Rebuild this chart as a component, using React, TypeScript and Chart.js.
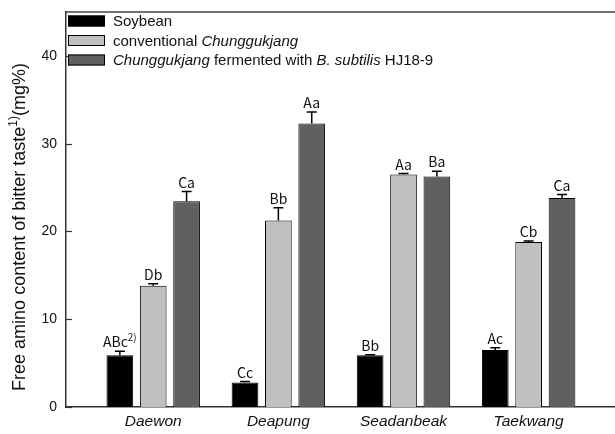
import React, { useEffect, useRef } from "react";
import { Chart, registerables } from "chart.js";

Chart.register(...registerables);

const categories = ["Daewon", "Deapung", "Seadanbeak", "Taekwang"];
const soybean = [5.9, 2.8, 5.9, 6.5];
const soybeanErr = [0.45, 0.1, 0.05, 0.25];
const conventional = [13.8, 21.25, 26.5, 18.8];
const conventionalErr = [0.25, 1.45, 0.1, 0.1];
const fermented = [23.45, 32.3, 26.25, 23.8];
const fermentedErr = [1.1, 1.3, 0.6, 0.4];
const soybeanLetters = ["ABc", "Cc", "Bb", "Ac"];
const conventionalLetters = ["Db", "Bb", "Aa", "Cb"];
const fermentedLetters = ["Ca", "Aa", "Ba", "Ca"];
const yTicks = [0, 10, 20, 30, 40];

type Seg = { t: string; i?: boolean; sup?: boolean };

const SANS = '"Liberation Sans", Arial, sans-serif';
const LETTER_FONT = '"Noto Sans CJK KR", "Noto Sans", sans-serif';

function segFont(s: Seg, size: number, family: string) {
  const sz = s.sup ? Math.round(size * 0.68) : size;
  return `${s.i ? "italic " : ""}${sz}px ${family}`;
}

function richWidth(ctx: CanvasRenderingContext2D, segs: Seg[], size: number, family: string) {
  let w = 0;
  for (const s of segs) {
    ctx.font = segFont(s, size, family);
    w += ctx.measureText(s.t).width;
  }
  return w;
}

function drawRich(
  ctx: CanvasRenderingContext2D,
  segs: Seg[],
  x: number,
  y: number,
  size: number,
  family: string
) {
  let cx = x;
  ctx.textAlign = "left";
  ctx.textBaseline = "alphabetic";
  for (const s of segs) {
    ctx.font = segFont(s, size, family);
    ctx.fillText(s.t, cx, s.sup ? y - size * 0.42 : y);
    cx += ctx.measureText(s.t).width;
  }
}

const legendItems: { color: string; segs: Seg[] }[] = [
  { color: "#000000", segs: [{ t: "Soybean" }] },
  { color: "#c0c0c0", segs: [{ t: "conventional " }, { t: "Chunggukjang", i: true }] },
  {
    color: "#606060",
    segs: [
      { t: "Chunggukjang", i: true },
      { t: " fermented with " },
      { t: "B. subtilis", i: true },
      { t: " HJ18-9" },
    ],
  },
];

const decorPlugin = {
  id: "decor",
  afterDatasetsDraw(chart: any) {
    const ctx: CanvasRenderingContext2D = chart.ctx;
    const yScale = chart.scales.y;
    const area = chart.chartArea;
    const errs = [soybeanErr, conventionalErr, fermentedErr];
    const vals = [soybean, conventional, fermented];
    const letters = [soybeanLetters, conventionalLetters, fermentedLetters];
    ctx.save();
    for (let d = 0; d < 3; d++) {
      const meta = chart.getDatasetMeta(d);
      meta.data.forEach((bar: any, j: number) => {
        const top = yScale.getPixelForValue(vals[d][j] + errs[d][j]);
        ctx.strokeStyle = "#000";
        ctx.lineWidth = 1.5;
        ctx.beginPath();
        ctx.moveTo(bar.x, bar.y);
        ctx.lineTo(bar.x, top);
        ctx.moveTo(bar.x - 5, top);
        ctx.lineTo(bar.x + 5, top);
        ctx.stroke();
        const segs: Seg[] = [{ t: letters[d][j] }];
        if (d === 0 && j === 0) segs.push({ t: "2)", sup: true });
        ctx.fillStyle = "#111";
        const w = richWidth(ctx, segs, 14, LETTER_FONT);
        drawRich(ctx, segs, bar.x - w / 2, top - 4, 14, LETTER_FONT);
      });
    }
    // inward y ticks
    ctx.strokeStyle = "#333";
    ctx.lineWidth = 1.2;
    for (const v of yTicks) {
      const py = Math.round(yScale.getPixelForValue(v)) + 0.5;
      ctx.beginPath();
      ctx.moveTo(area.left, py);
      ctx.lineTo(area.left + 6, py);
      ctx.stroke();
    }
    // top frame line
    ctx.strokeStyle = "#444";
    ctx.lineWidth = 1.5;
    ctx.beginPath();
    ctx.moveTo(area.left, area.top);
    ctx.lineTo(chart.width, area.top);
    ctx.stroke();
    ctx.restore();
  },
  afterDraw(chart: any) {
    const ctx: CanvasRenderingContext2D = chart.ctx;
    ctx.save();
    // legend
    legendItems.forEach((it, k) => {
      const cy = 21 + k * 19.5;
      ctx.fillStyle = it.color;
      ctx.fillRect(68, cy - 5.5, 37, 11);
      ctx.strokeStyle = "#000";
      ctx.lineWidth = 1;
      ctx.strokeRect(68.5, cy - 5, 36, 10);
      ctx.fillStyle = "#111";
      drawRich(ctx, it.segs, 113, cy + 5, 15, SANS);
    });
    // y title
    const tsegs: Seg[] = [
      { t: "Free amino content of bitter taste" },
      { t: "1)", sup: true },
      { t: "(mg%)" },
    ];
    ctx.translate(25, 227);
    ctx.rotate(-Math.PI / 2);
    ctx.fillStyle = "#111";
    const w = richWidth(ctx, tsegs, 18, SANS);
    drawRich(ctx, tsegs, -w / 2, 0, 18, SANS);
    ctx.restore();
  },
};

export default function App() {
  const ref = useRef<HTMLCanvasElement | null>(null);
  useEffect(() => {
    if (!ref.current) return;
    const toXY = (arr: number[]) => arr.map((v, i) => ({ x: i + 1, y: v }));
    const chart = new Chart(ref.current, {
      type: "bar",
      data: {
        datasets: [
          {
            label: "Soybean",
            data: toXY(soybean),
            backgroundColor: "#000000",
            borderColor: "#000000",
            borderWidth: 1,
          },
          {
            label: "conventional Chunggukjang",
            data: toXY(conventional),
            backgroundColor: "#c0c0c0",
            borderColor: "#000000",
            borderWidth: 1,
          },
          {
            label: "Chunggukjang fermented with B. subtilis HJ18-9",
            data: toXY(fermented),
            backgroundColor: "#606060",
            borderColor: "#000000",
            borderWidth: 1,
          },
        ] as any,
      },
      options: {
        animation: false,
        responsive: false,
        maintainAspectRatio: false,
        datasets: { bar: { categoryPercentage: 0.8, barPercentage: 0.8 } } as any,
        layout: { padding: { top: 12, left: 0, right: 0, bottom: 0 } },
        plugins: { legend: { display: false }, tooltip: { enabled: false }, title: { display: false } },
        scales: {
          x: {
            type: "linear",
            offset: false,
            min: 0.303,
            max: 4.69,
            grid: { display: false, drawTicks: false, offset: false },
            border: { display: true, color: "#333", width: 1.5 },
            afterBuildTicks: (scale: any) => {
              scale.ticks = categories.map((_, i) => ({ value: i + 1 }));
            },
            afterFit: (scale: any) => {
              scale.height = 27;
              scale.paddingLeft = 0;
              scale.paddingRight = 0;
            },
            ticks: {
              padding: 5,
              autoSkip: false,
              maxRotation: 0,
              color: "#111",
              font: { family: SANS, size: 15.5, style: "italic" },
              callback: (v: any) => categories[Math.round(Number(v)) - 1] ?? "",
            },
          } as any,
          y: {
            min: 0,
            max: 45,
            grid: { display: false, drawTicks: false },
            border: { display: true, color: "#333", width: 1.5 },
            afterBuildTicks: (scale: any) => {
              scale.ticks = yTicks.map((v) => ({ value: v }));
            },
            afterFit: (scale: any) => {
              scale.width = 66;
              scale.paddingTop = 0;
              scale.paddingBottom = 0;
            },
            ticks: {
              padding: 9,
              color: "#111",
              font: { family: SANS, size: 14 },
            },
          } as any,
        },
      },
      plugins: [decorPlugin],
    });
    return () => chart.destroy();
  }, []);
  return (
    <div style={{ position: "fixed", left: 0, top: 0, width: 615, height: 434, background: "#fff" }}>
      <canvas ref={ref} width={615} height={434} style={{ width: 615, height: 434 }} />
    </div>
  );
}
